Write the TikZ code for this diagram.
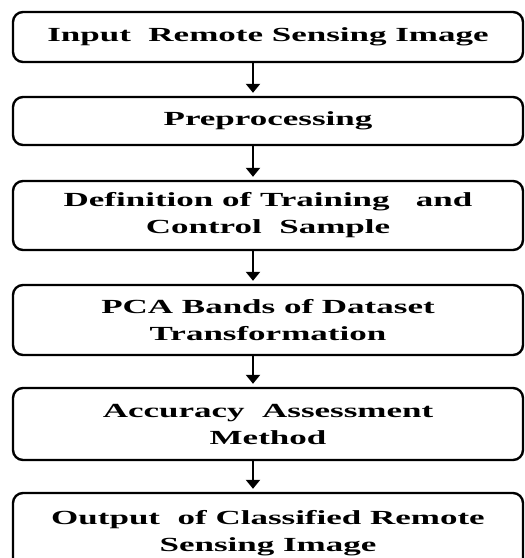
\documentclass[tikz,border=0pt]{standalone}
\usepackage{fontspec}
\newfontfamily\boxfont{Liberation Serif}[FakeStretch=1.75]
\usetikzlibrary{arrows.meta}
\begin{document}
\begin{tikzpicture}[x=1pt,y=-1pt,
  stagebox/.style={draw=black,line width=2.4pt,rounded corners=10pt,fill=white,
    minimum width=510pt,inner sep=0pt,align=center,
    font=\boxfont\bfseries\fontsize{20}{27}\selectfont},
  flowarrow/.style={line width=2.4pt,-{Triangle[width=14pt,length=9pt]},shorten >=3pt}]
\useasboundingbox (0,0) rectangle (525,558);
\clip (0,0) rectangle (525,558);
\fill[white] (0,0) rectangle (525,558);
% processing stages, top to bottom
\node[stagebox,minimum height=50pt] (input) at (268,37) {Input\ \ Remote Sensing Image};
\node[stagebox,minimum height=48pt] (prep) at (268,121) {Preprocessing};
\node[stagebox,minimum height=69pt] (train) at (268,215.5) {Definition of Training\ \ \ and\\Control\ \ Sample};
\node[stagebox,minimum height=70pt] (pca) at (268,320) {PCA Bands of Dataset\\Transformation};
\node[stagebox,minimum height=72pt] (acc) at (268,424) {Accuracy\ \ Assessment\\Method};
\node[stagebox,minimum height=80pt] (out) at (268,533) {Output\ \ of Classified Remote\\Sensing Image};
% connectors
\draw[flowarrow] (input.south -| 253,0) -- (prep.north -| 253,0);
\draw[flowarrow] (prep.south -| 253,0) -- (train.north -| 253,0);
\draw[flowarrow] (train.south -| 253,0) -- (pca.north -| 253,0);
\draw[flowarrow] (pca.south -| 253,0) -- (acc.north -| 253,0);
\draw[flowarrow] (acc.south -| 253,0) -- (out.north -| 253,0);
\end{tikzpicture}
\end{document}
